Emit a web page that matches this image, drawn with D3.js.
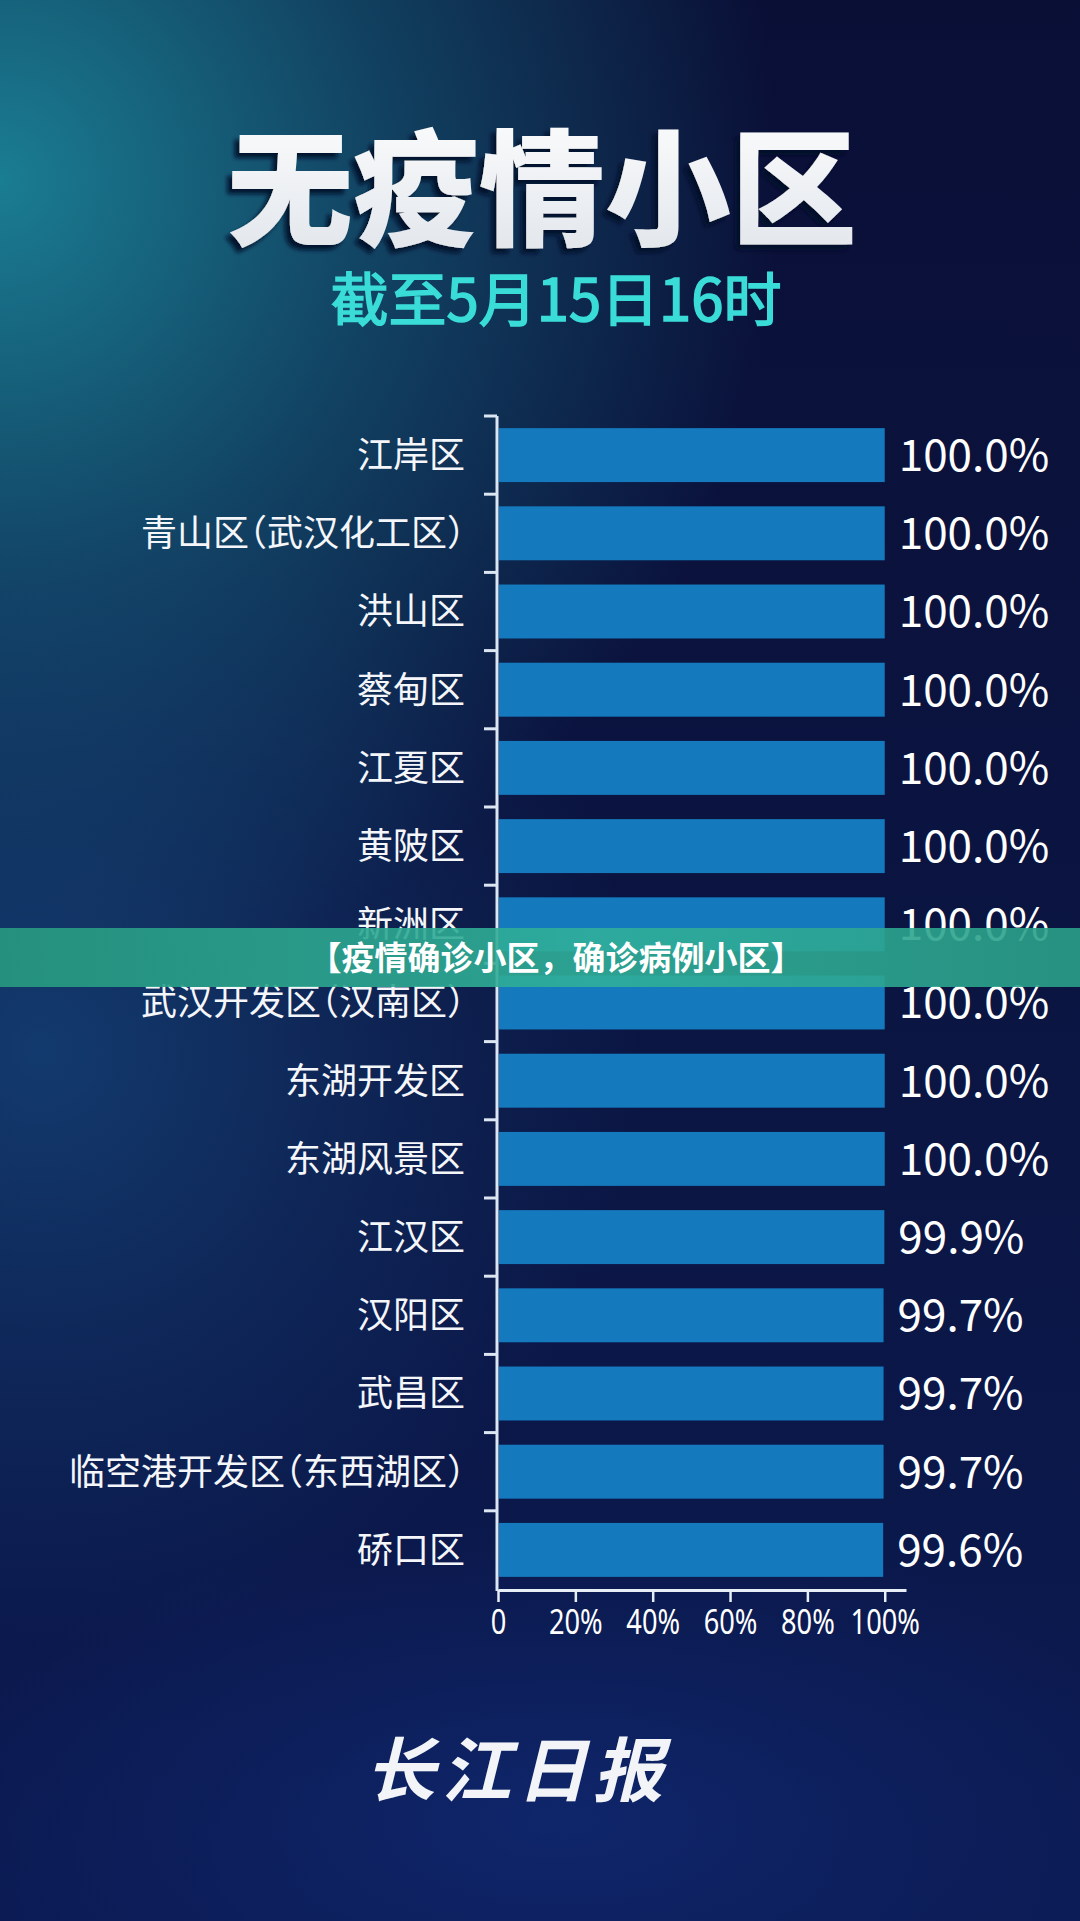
<!DOCTYPE html>
<html>
<head>
<meta charset="utf-8">
<script src="https://cdn.jsdelivr.net/npm/d3@7"></script>
<style>
  html, body { margin: 0; padding: 0; background: #0b1642; }
  svg { display: block; }
  .cjk { font-family: "Noto Sans CJK SC", "Noto Sans", sans-serif; }
</style>
</head>
<body>
<div id="chart"></div>
<script>
// chart data
var title = '无疫情小区';
var subtitle = '截至5月15日16时';
var banner = '【疫情确诊小区，确诊病例小区】';
var logo = '长江日报';

var districts = ['江岸区', '青山区（武汉化工区）', '洪山区', '蔡甸区', '江夏区', '黄陂区', '新洲区',
    '武汉开发区（汉南区）', '东湖开发区', '东湖风景区', '江汉区', '汉阳区', '武昌区',
    '临空港开发区（东西湖区）', '硚口区'];
var rates = [100.0, 100.0, 100.0, 100.0, 100.0, 100.0, 100.0, 100.0, 100.0, 100.0, 99.9, 99.7, 99.7, 99.7, 99.6];
var xTicks = [0, 20, 40, 60, 80, 100];

var W = 1080, H = 1921;

var svg = d3.select('#chart').append('svg')
    .attr('width', W)
    .attr('height', H);

var defs = svg.append('defs');

//background gradients
var bgLin = defs.append('linearGradient').attr('id', 'bgLin')
    .attr('x1', 0).attr('y1', 0).attr('x2', 0).attr('y2', 1);
bgLin.append('stop').attr('offset', '0%').attr('stop-color', '#0a0f36');
bgLin.append('stop').attr('offset', '60%').attr('stop-color', '#0b1644');
bgLin.append('stop').attr('offset', '100%').attr('stop-color', '#0b1a52');

function radial(id, color, op) {
    var g = defs.append('radialGradient').attr('id', id);
    g.append('stop').attr('offset', '0%').attr('stop-color', color).attr('stop-opacity', op);
    g.append('stop').attr('offset', '50%').attr('stop-color', color).attr('stop-opacity', op * 0.45);
    g.append('stop').attr('offset', '100%').attr('stop-color', color).attr('stop-opacity', 0);
}
radial('glowTeal', '#1a7d92', 1);
radial('glowMid', '#164a80', 0.7);
radial('glowLow', '#123080', 0.55);

svg.append('rect').attr('width', W).attr('height', H).attr('fill', 'url(#bgLin)');
svg.append('ellipse').attr('cx', 0).attr('cy', 180).attr('rx', 780).attr('ry', 820).attr('fill', 'url(#glowTeal)');
svg.append('ellipse').attr('cx', 40).attr('cy', 1050).attr('rx', 600).attr('ry', 600).attr('fill', 'url(#glowMid)');
svg.append('ellipse').attr('cx', 560).attr('cy', 1820).attr('rx', 650).attr('ry', 300).attr('fill', 'url(#glowLow)');

//title shadow filter
var f = defs.append('filter').attr('id', 'titleShadow')
    .attr('x', '-10%').attr('y', '-20%').attr('width', '120%').attr('height', '140%');
f.append('feDropShadow').attr('dx', -5).attr('dy', 5).attr('stdDeviation', 2)
    .attr('flood-color', '#06102a').attr('flood-opacity', 0.9);

var tGrad = defs.append('linearGradient').attr('id', 'titleFill')
    .attr('x1', 0).attr('y1', 0).attr('x2', 0).attr('y2', 1);
tGrad.append('stop').attr('offset', '0%').attr('stop-color', '#ffffff');
tGrad.append('stop').attr('offset', '100%').attr('stop-color', '#dfe4ea');

svg.append('text')
    .attr('class', 'cjk')
    .attr('x', 542).attr('y', 236)
    .attr('text-anchor', 'middle')
    .attr('font-size', 126)
    .attr('font-weight', 900)
    .attr('fill', 'url(#titleFill)')
    .attr('filter', 'url(#titleShadow)')
    .text(title);

svg.append('text')
    .attr('class', 'cjk')
    .attr('x', 556).attr('y', 321)
    .attr('text-anchor', 'middle')
    .attr('font-size', 58)
    .attr('font-weight', 400)
    .attr('fill', '#3adcd8')
    .attr('stroke', '#3adcd8')
    .attr('stroke-width', 1.6)
    .text(subtitle);

// scales
var margin = { left: 498, right: 906, top: 416, bottom: 1589 };

var x = d3.scaleLinear()
    .domain([0, 105.5])
    .range([margin.left, margin.right]);

var y = d3.scaleBand()
    .domain(districts)
    .range([margin.top, margin.bottom])
    .paddingInner(0.31)
    .paddingOuter(0.155);

var chart = svg.append('g');

chart.selectAll('.bar')
    .data(districts)
    .enter().append('rect')
    .attr('class', 'bar')
    .attr('x', x(0) + 1)
    .attr('y', function (d) { return y(d); })
    .attr('width', function (d, i) { return x(rates[i]) - x(0) - 1; })
    .attr('height', y.bandwidth())
    .attr('fill', '#1479bd');

chart.selectAll('.val')
    .data(districts)
    .enter().append('text')
    .attr('class', 'val cjk')
    .attr('x', function (d, i) { return x(rates[i]) + 14; })
    .attr('y', function (d) { return y(d) + y.bandwidth() / 2; })
    .attr('dy', '0.36em')
    .attr('font-size', 44)
    .attr('fill', '#ffffff')
    .text(function (d, i) { return rates[i].toFixed(1) + '%'; });

chart.selectAll('.cat')
    .data(districts)
    .enter().append('text')
    .attr('class', 'cat cjk')
    .attr('x', 465)
    .attr('y', function (d) { return y(d) + y.bandwidth() / 2; })
    .attr('dy', '0.36em')
    .attr('text-anchor', 'end')
    .attr('font-size', 36)
    .attr('fill', '#f4f6fa')
    .style('font-feature-settings', '"halt"')
    .text(function (d) { return d; });

// y axis: line plus ticks at band boundaries
var gap = (y.step() - y.bandwidth()) / 2;
chart.append('line')
    .attr('x1', x(0) - 1).attr('x2', x(0) - 1)
    .attr('y1', margin.top).attr('y2', margin.bottom + 2)
    .attr('stroke', '#dce6f2').attr('stroke-width', 3);

chart.selectAll('.ytick')
    .data(districts)
    .enter().append('line')
    .attr('class', 'ytick')
    .attr('x1', x(0) - 14).attr('x2', x(0) - 1)
    .attr('y1', function (d) { return y(d) - gap; })
    .attr('y2', function (d) { return y(d) - gap; })
    .attr('stroke', '#dce6f2').attr('stroke-width', 3);

// x axis
var xAxis = d3.axisBottom(x)
    .tickValues(xTicks)
    .tickFormat(function (d) { return d === 0 ? '0' : d + '%'; })
    .tickSize(12)
    .tickSizeOuter(0)
    .tickPadding(8);

var gx = chart.append('g')
    .attr('transform', 'translate(0,' + (margin.bottom + 1) + ')')
    .call(xAxis);

gx.select('.domain').attr('stroke', '#e8eef5').attr('stroke-width', 3);
gx.selectAll('.tick line').attr('stroke', '#e8eef5').attr('stroke-width', 2.5);
gx.selectAll('.tick text')
    .attr('fill', '#ffffff')
    .attr('font-size', 34)
    .attr('font-family', '"Noto Sans", sans-serif')
    .attr('transform', 'scale(0.8,1)');

// green banner over the chart
var bGrad = defs.append('linearGradient').attr('id', 'bannerFill');
bGrad.append('stop').attr('offset', '0%').attr('stop-color', '#279a80');
bGrad.append('stop').attr('offset', '55%').attr('stop-color', '#30b09a');
bGrad.append('stop').attr('offset', '100%').attr('stop-color', '#2a9f88');

svg.append('rect')
    .attr('x', 0).attr('y', 928)
    .attr('width', W).attr('height', 59)
    .attr('fill', 'url(#bannerFill)')
    .attr('opacity', 0.9);

svg.append('text')
    .attr('class', 'cjk')
    .attr('x', 556).attr('y', 958)
    .attr('dy', '0.36em')
    .attr('text-anchor', 'middle')
    .attr('font-size', 33)
    .attr('font-weight', 700)
    .attr('fill', '#ffffff')
    .text(banner);

// logo
svg.append('text')
    .attr('class', 'cjk')
    .attr('transform', 'translate(517,1796) skewX(-14)')
    .attr('text-anchor', 'middle')
    .attr('font-size', 70)
    .attr('font-weight', 700)
    .attr('letter-spacing', 6)
    .attr('fill', '#f2f4f8')
    .text(logo);
</script>
</body>
</html>
